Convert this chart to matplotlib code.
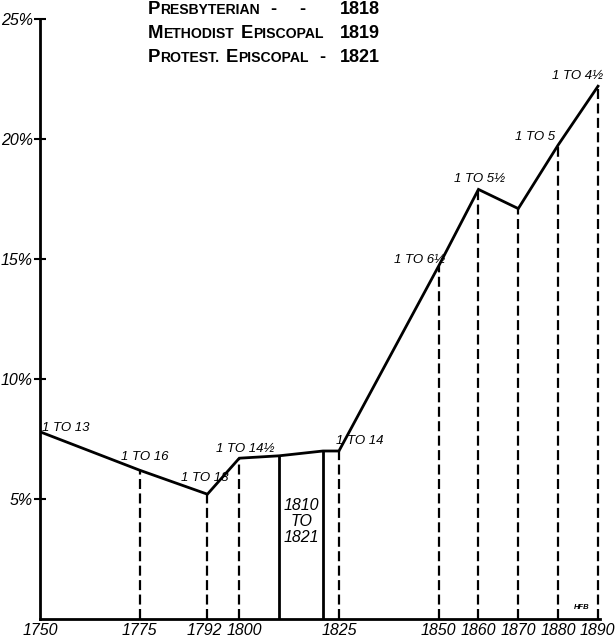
import matplotlib
matplotlib.use("Agg")
import matplotlib.pyplot as plt
from matplotlib.transforms import ScaledTranslation

# ratio of church members to population (percent)
years = [1750, 1775, 1792, 1800, 1810, 1821, 1825, 1850, 1860, 1870, 1880, 1890]
pct = [7.8, 6.2, 5.2, 6.7, 6.8, 7.0, 7.0, 14.7, 17.9, 17.1, 19.75, 22.2]

dashed_years = [1775, 1792, 1800, 1825, 1850, 1860, 1870, 1880, 1890]
solid_years = [1810, 1821]

xtick_years = [1750, 1775, 1792, 1800, 1825, 1850, 1860, 1870, 1880, 1890]
ytick_vals = [5, 10, 15, 20, 25]

point_labels = {1750: "1 TO 13", 1775: "1 TO 16", 1792: "1 TO 18",
                1800: "1 TO 14½", 1825: "1 TO 14", 1850: "1 TO 6½",
                1860: "1 TO 5½", 1880: "1 TO 5", 1890: "1 TO 4½"}
# (dx, dy) in pixels, label alignment
label_off = {1750: (2, 4, "left"), 1775: (5, 13, "center"), 1792: (-3, 16, "center"),
             1800: (6, 9, "center"), 1825: (21, 10, "center"), 1850: (-19, 6, "center"),
             1860: (1, 10, "center"), 1880: (-23, 8, "center"), 1890: (-20, 10, "center")}
# small sideways nudges of crowded year labels, pixels
xtick_nudge = {1792: -3, 1800: 5, 1890: -1}

header_words = [[("P", "RESBYTERIAN")],
                [("M", "ETHODIST"), ("E", "PISCOPAL")],
                [("P", "ROTEST."), ("E", "PISCOPAL")]]
header_years = ["1818", "1819", "1821"]
header_dashes = [[273, 302], [], [322]]

W, H = 615, 639
fig = plt.figure(figsize=(W / 100, H / 100), dpi=100)
ax = fig.add_axes([40 / W, 20 / H, 560 / W, 600 / H])

hand = dict(family="Liberation Sans", style="italic")
head_font = "Liberation Sans"

y_at = dict(zip(years, pct))
ax.plot(years, pct, color="black", lw=2.0, solid_joinstyle="miter", zorder=3)
for yr in dashed_years:
    ax.plot([yr, yr], [0, y_at[yr]], color="black", lw=1.6, dashes=(4.5, 2.0))
for yr in solid_years:
    ax.plot([yr, yr], [0, y_at[yr]], color="black", lw=2.0)

for yr, txt in point_labels.items():
    dx, dy, ha = label_off[yr]
    ax.annotate(txt, (yr, y_at[yr]), xytext=(dx, dy), textcoords="offset pixels",
                ha=ha, va="center", fontsize=9.5, **hand)

ax.text(1815.5, 4.05, "1810\nTO\n1821", ha="center", va="center", fontsize=11.5,
        linespacing=1.1, **hand)
ax.text(1886, 0.35, "HFB", ha="center", va="bottom", fontsize=5.5, weight="bold", **hand)

ax.set_xlim(1750, 1890.5)
ax.set_ylim(0, 25)
for s in ["top", "right"]:
    ax.spines[s].set_visible(False)
ax.spines["left"].set_linewidth(2.0)
ax.spines["bottom"].set_linewidth(2.0)
ax.set_xticks(xtick_years)
ax.set_xticklabels([str(y) for y in xtick_years], fontsize=11.5, **hand)
ax.set_yticks(ytick_vals)
ax.set_yticklabels([f"{v}%" for v in ytick_vals], fontsize=11.5, **hand)
ax.tick_params(axis="x", length=0, pad=3)
ax.tick_params(axis="y", direction="inout", length=8, width=1.5, pad=1)

for yr, lab in zip(xtick_years, ax.get_xticklabels()):
    if yr in xtick_nudge:
        shift = ScaledTranslation(xtick_nudge[yr] / 100, 0, fig.dpi_scale_trans)
        lab.set_transform(lab.get_transform() + shift)

# header block in small caps
renderer = fig.canvas.get_renderer()
rows_y = [14, 38, 62]
for words, yr, dashes, py in zip(header_words, header_years, header_dashes, rows_y):
    fy = 1 - py / H
    fig.text(380 / W, fy, yr, ha="right", va="baseline", fontsize=13,
             family=head_font, weight="bold")
    x = 148
    for big, small in words:
        t = fig.text(x / W, fy, big, ha="left", va="baseline", fontsize=13.3,
                     family=head_font, weight="bold")
        x += t.get_window_extent(renderer).width
        t = fig.text(x / W, fy, small, ha="left", va="baseline", fontsize=10.1,
                     family=head_font, weight="bold")
        x += t.get_window_extent(renderer).width + 6
    for dx in dashes:
        fig.text(dx / W, fy, "-", ha="center", va="baseline", fontsize=13,
                 family=head_font, weight="bold")

fig.savefig("out.png", dpi=100, facecolor="white")
